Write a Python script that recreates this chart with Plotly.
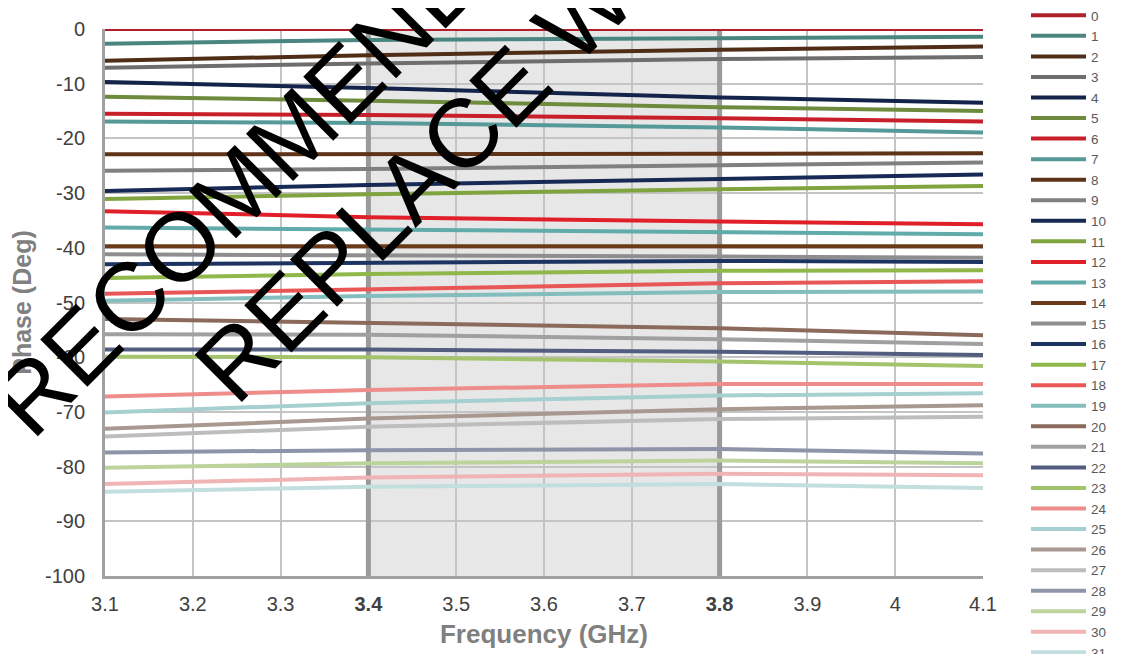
import plotly.graph_objects as go

# ---- data ----
freq_ghz = [3.1, 3.4, 3.8, 4.1]
series_names = [str(i) for i in range(32)]
phase_deg = [
    [0.0, 0.0, 0.0, 0.0],
    [-2.7, -2.0, -1.7, -1.4],
    [-5.8, -4.8, -3.8, -3.2],
    [-7.1, -6.3, -5.5, -5.1],
    [-9.7, -10.8, -12.5, -13.5],
    [-12.4, -13.1, -14.3, -15.0],
    [-15.5, -15.7, -16.3, -16.9],
    [-16.9, -17.2, -18.0, -18.9],
    [-22.9, -22.9, -22.8, -22.7],
    [-25.9, -25.6, -24.9, -24.4],
    [-29.6, -28.5, -27.4, -26.6],
    [-31.1, -30.2, -29.3, -28.7],
    [-33.3, -34.4, -35.2, -35.7],
    [-36.3, -36.7, -37.2, -37.5],
    [-39.7, -39.7, -39.7, -39.7],
    [-41.2, -41.3, -41.6, -41.8],
    [-43.0, -42.7, -42.4, -42.6],
    [-45.5, -44.8, -44.2, -44.1],
    [-48.4, -47.6, -46.5, -46.1],
    [-49.7, -48.8, -48.1, -48.0],
    [-53.0, -53.7, -54.7, -56.0],
    [-55.8, -55.9, -56.7, -57.6],
    [-58.6, -58.6, -59.0, -59.6],
    [-59.9, -60.0, -60.8, -61.6],
    [-67.2, -66.0, -64.9, -64.9],
    [-70.1, -68.4, -67.0, -66.6],
    [-73.1, -71.2, -69.5, -68.8],
    [-74.5, -72.7, -71.3, -70.9],
    [-77.4, -77.0, -76.8, -77.6],
    [-80.2, -79.4, -78.9, -79.4],
    [-83.2, -82.0, -81.3, -81.6],
    [-84.6, -83.7, -83.2, -83.9],
]
band_ghz = [3.4, 3.8]
x_ticks = [3.1, 3.2, 3.3, 3.4, 3.5, 3.6, 3.7, 3.8, 3.9, 4.0, 4.1]
x_tick_text = ["3.1", "3.2", "3.3", "<b>3.4</b>", "3.5", "3.6", "3.7", "<b>3.8</b>", "3.9", "4", "4.1"]
y_ticks = list(range(-100, 1, 10))
y_tick_text = [str(v) for v in y_ticks]
watermark_lines = ["RECOMMENDED", "REPLACE WITH"]

# ---- styles ----
colors = [
    "#b01f2a", "#4a8580", "#4f2d17", "#6e6e6e", "#14234a", "#6e8b3d", "#c8202b", "#559a98",
    "#5e3318", "#808080", "#172a55", "#7fa33f", "#e02028", "#62abab", "#6b3a1a", "#8e8e8e",
    "#1d3461", "#8fb74a", "#e85656", "#83bdbd", "#8a6a5a", "#a0a0a0", "#525d80", "#a3c46c",
    "#ef8c8c", "#a6cfcf", "#a89890", "#bdbdbd", "#8e95a8", "#bcd49c", "#f1b4b4", "#c3dede",
]
FONT = "Liberation Sans, Arial, sans-serif"

fig = go.Figure()
for name, vals, col in zip(series_names, phase_deg, colors):
    fig.add_trace(go.Scatter(x=freq_ghz, y=vals, mode="lines", name=name,
                             line=dict(color=col, width=4)))

# shaded band and its borders
fig.add_shape(type="rect", xref="x", yref="y", x0=band_ghz[0], x1=band_ghz[1], y0=-100, y1=0,
              fillcolor="#e7e7e7", line=dict(width=0), layer="below")
for b in band_ghz:
    fig.add_shape(type="line", xref="x", yref="y", x0=b, x1=b, y0=-100, y1=0,
                  line=dict(color="#9a9a9a", width=5), layer="between")

# watermark
wm_pos = [(0.2039, 0.7934), (0.4157, 0.8215)]
for txt, (px, py) in zip(watermark_lines, wm_pos):
    fig.add_annotation(text=txt, xref="paper", yref="paper", x=px, y=py,
                       showarrow=False, textangle=-45, xanchor="center", yanchor="middle",
                       font=dict(family=FONT, size=97, color="black"))

fig.update_layout(
    width=1123, height=654,
    margin=dict(l=97, r=148, t=21, b=86),
    paper_bgcolor="white", plot_bgcolor="white",
    font=dict(family=FONT, color="#404040", size=20),
    showlegend=True,
    legend=dict(xref="container", yref="paper", x=0.9065, y=1.053, xanchor="left", yanchor="top",
                font=dict(size=13.5, color="#595959"), tracegroupgap=0, maxheight=700,
                itemwidth=55,
                bgcolor="rgba(0,0,0,0)", borderwidth=0),
    xaxis=dict(range=[3.1, 4.1], tickvals=x_ticks, ticktext=x_tick_text, automargin=False,
               showgrid=True, gridcolor="#c4c4c4", gridwidth=2,
               showline=True, linecolor="#a0a0a0", linewidth=3, zeroline=False,
               ticks="", ticklabelstandoff=8,
               tickfont=dict(size=20, color="#404040"),
               title=dict(text="<b>Frequency (GHz)</b>", font=dict(size=26, color="#808080"), standoff=11)),
    yaxis=dict(range=[-100, 0], tickvals=y_ticks, ticktext=y_tick_text, automargin=False,
               showgrid=True, gridcolor="#c4c4c4", gridwidth=2,
               showline=True, linecolor="#a0a0a0", linewidth=3, zeroline=False,
               ticks="", ticklabelstandoff=13,
               tickfont=dict(size=20, color="#404040"),
               title=dict(text="<b>Phase (Deg)</b>", font=dict(size=25, color="#808080"), standoff=10)),
)

fig.write_html("out.html")
